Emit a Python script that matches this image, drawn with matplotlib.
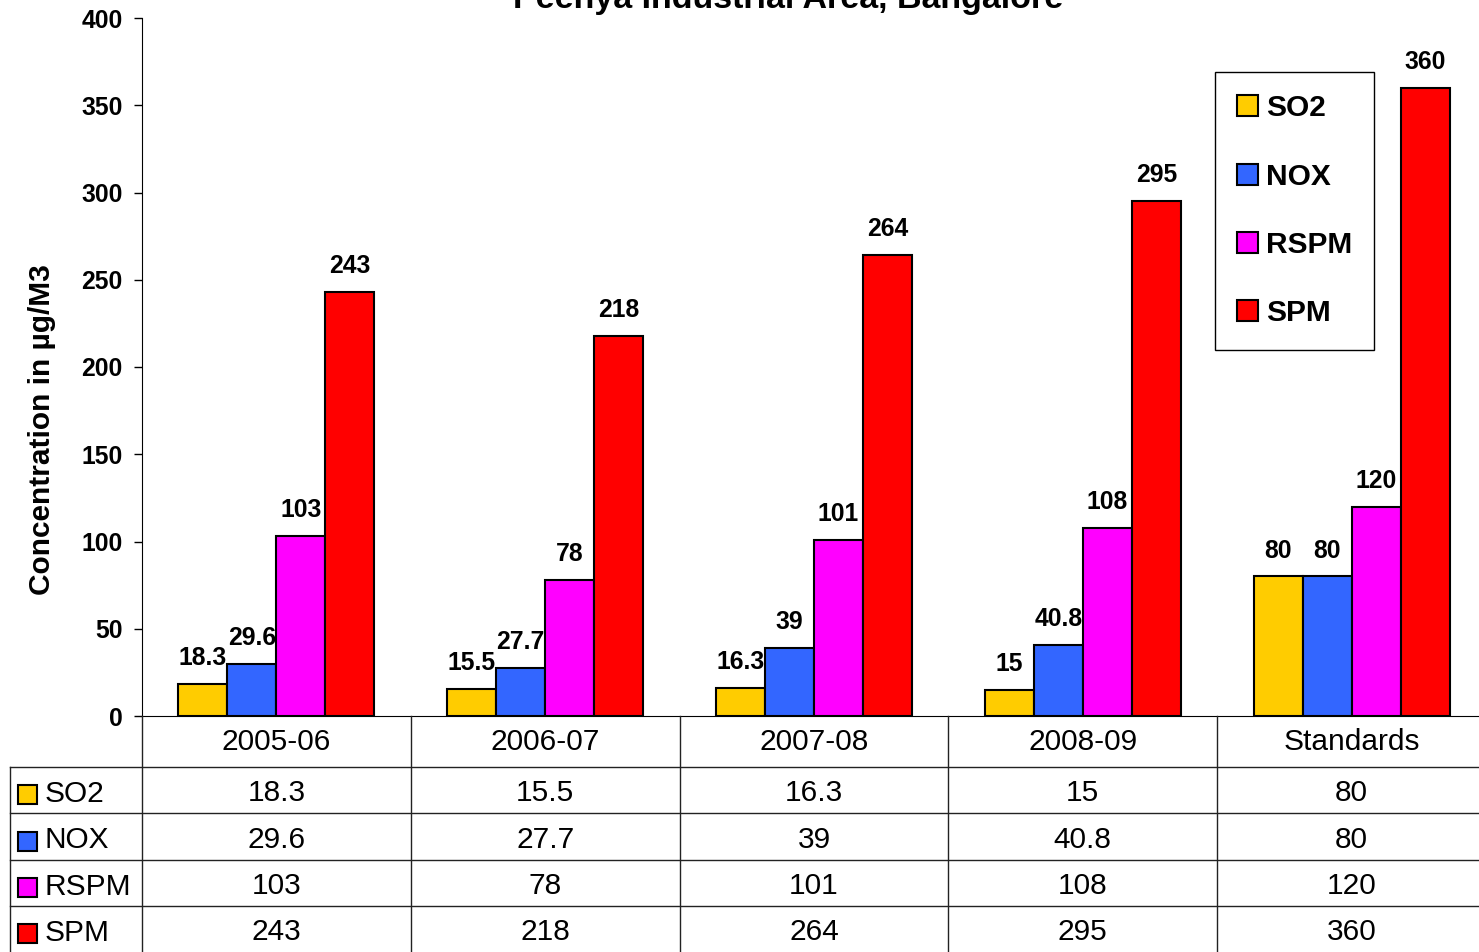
import numpy as np
import matplotlib
matplotlib.use("Agg")
import matplotlib.pyplot as plt
from matplotlib.patches import Rectangle, Patch

plt.rcParams['font.family'] = ['Liberation Sans', 'DejaVu Sans']

years = ['2005-06', '2006-07', '2007-08', '2008-09', 'Standards']
pollutants = ['SO2', 'NOX', 'RSPM', 'SPM']
so2 = [18.3, 15.5, 16.3, 15, 80]
nox = [29.6, 27.7, 39, 40.8, 80]
rspm = [103, 78, 101, 108, 120]
spm = [243, 218, 264, 295, 360]
series = [so2, nox, rspm, spm]
colors = ['#FFCC00', '#3366FF', '#FF00FF', '#FF0000']

W, H = 1479, 952
fig = plt.figure(figsize=(W / 100, H / 100), dpi=100)

# plot area in pixels
ax_l, ax_r, ax_t, ax_b = 142, 1486, 18, 716
cat_px = (ax_r - ax_l) / len(years)
ax = fig.add_axes([ax_l / W, (H - ax_b) / H, (ax_r - ax_l) / W, (ax_b - ax_t) / H])

x = np.arange(len(years))
bw = 49 / cat_px
for i, (vals, c) in enumerate(zip(series, colors)):
    bars = ax.bar(x + (i - 1.5) * bw, vals, bw, color=c, edgecolor='black',
                  linewidth=1.5, label=pollutants[i])
    ax.bar_label(bars, labels=[f'{v:g}' for v in vals], padding=10,
                 fontsize=17.8, fontweight='bold')

ax.set_xlim(-0.5, len(years) - 0.5)
ax.set_ylim(0, 400)
ax.set_yticks(np.arange(0, 401, 50))
ax.set_xticks([])
ax.tick_params(axis='y', labelsize=17.8, length=6, width=1, pad=8)
for lab in ax.get_yticklabels():
    lab.set_fontweight('bold')
ax.spines['top'].set_visible(False)
ax.spines['right'].set_visible(False)
ax.spines['left'].set_color('black')
ax.spines['bottom'].set_color('black')

fig.text(42 / W, 1 - 430 / H, 'Concentration in µg/M3', rotation=90,
         ha='center', va='center', fontsize=21.5, fontweight='bold')
fig.text(788 / W, 1 - 8 / H, 'Peenya Industrial Area, Bangalore',
         ha='center', va='baseline', fontsize=24.5, fontweight='bold')

handles = [Patch(facecolor=c, edgecolor='black', linewidth=1.5) for c in colors]
leg = fig.legend(handles, pollutants, loc='upper left',
                 bbox_to_anchor=(1215 / W, 1 - 72 / H), frameon=True,
                 fancybox=False, edgecolor='black', framealpha=1,
                 prop={'size': 21.5, 'weight': 'bold'}, labelspacing=1.35,
                 handlelength=0.7, handleheight=0.7, handletextpad=0.25,
                 borderpad=0.75, borderaxespad=0)
leg.get_frame().set_linewidth(1)

# data table under the plot, y in pixels from the axis line
tab = fig.add_axes([ax_l / W, 0, (ax_r - ax_l) / W, (H - ax_b) / H])
tab.set_xlim(-0.5, len(years) - 0.5)
tab.set_ylim(H - ax_b, 0)
tab.axis('off')


def px2x(p):
    return -0.5 + (p - ax_l) / cat_px


row_edges = [0, 51, 97, 144, 190, 236]
left_x = px2x(10)
lc = '#222222'
for xb in np.arange(-0.5, len(years), 1.0):
    tab.plot([xb, xb], [0, 236], color=lc, lw=1, clip_on=False)
tab.plot([left_x, left_x], [51, 236], color=lc, lw=1, clip_on=False)
for yb in row_edges[1:-1]:
    tab.plot([left_x, len(years)], [yb, yb], color=lc, lw=1, clip_on=False)

for j, yr in enumerate(years):
    tab.text(j, (row_edges[0] + row_edges[1]) / 2 + 1, yr, ha='center',
             va='center', fontsize=21.5)

for i, (name, vals, c) in enumerate(zip(pollutants, series, colors)):
    yc = (row_edges[i + 1] + row_edges[i + 2]) / 2 + 4
    tab.add_patch(Rectangle((px2x(18), yc - 9), 19 / cat_px, 19,
                            facecolor=c, edgecolor='black', lw=1.5,
                            clip_on=False))
    tab.text(px2x(45), yc, name, ha='left', va='center', fontsize=21.5)
    for j, v in enumerate(vals):
        tab.text(j, yc - 1, f'{v:g}', ha='center', va='center', fontsize=21.5)

fig.savefig('out.png', dpi=100)
